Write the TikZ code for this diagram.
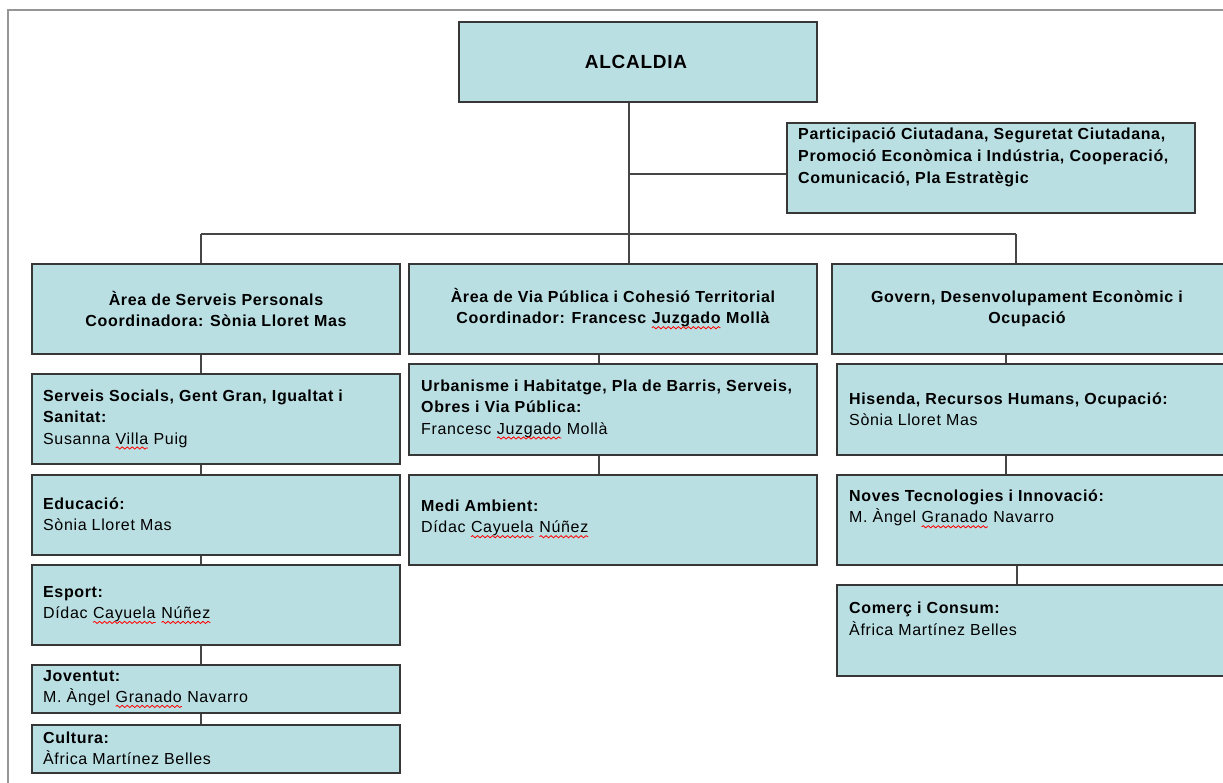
\documentclass[tikz,border=0pt]{standalone}
\usepackage{fontspec}
\setmainfont{Liberation Sans}[LetterSpace=4]
\usetikzlibrary{shadows,decorations.pathmorphing}
\definecolor{boxfill}{RGB}{186,223,227}
\definecolor{boxline}{RGB}{55,55,55}
\definecolor{connline}{RGB}{70,70,70}
\definecolor{framegray}{RGB}{150,150,150}
\newcommand\sq[1]{\tikz[baseline=(sqw.base)]{\node[inner sep=0pt,outer sep=0pt,anchor=base west] (sqw) at (0pt,0pt) {#1};\draw[red,line width=0.8pt,decorate,decoration={snake,amplitude=1.1pt,segment length=5pt}] ([yshift=-3.8pt]sqw.base west) -- ([yshift=-3.8pt]sqw.base east);}}
\begin{document}
\begin{tikzpicture}[x=1pt,y=-1pt,
  orgbox/.style n args={2}{draw=boxline, line width=1.3pt, fill=boxfill, inner sep=0pt,
    minimum width=#1pt, minimum height=#2pt,
    drop shadow={shadow xshift=1.2pt, shadow yshift=-1.2pt, fill=black, opacity=0.25}},
  lbl/.style={anchor=west, align=left, inner sep=0pt, font=\fontsize{16}{21.5}\selectfont},
  ctr/.style={align=center, inner sep=0pt, font=\fontsize{16}{21}\selectfont\bfseries},
  conn/.style={draw=connline, line width=1.3pt}]
\useasboundingbox (0,0) rectangle (1223,783);
\fill[white] (0,0) rectangle (1223,783);
\draw[framegray, line width=1.5pt] (8,790) -- (8,10) -- (1230,10);

% boxes
\node[orgbox={358}{80}] (alc) at (638,62) {};
\node[orgbox={408}{90}] (part) at (991,168) {};
\node[orgbox={368}{90}] (a1) at (216,309) {};
\node[orgbox={408}{90}] (a2) at (613,309) {};
\node[orgbox={396}{90}] (a3) at (1030,309) {};
\node[orgbox={368}{90}] (l1) at (216,419) {};
\node[orgbox={368}{80}] (l2) at (216,515) {};
\node[orgbox={368}{80}] (l3) at (216,605) {};
\node[orgbox={368}{48}] (l4) at (216,689) {};
\node[orgbox={368}{48}] (l5) at (216,749) {};
\node[orgbox={408}{91}] (m1) at (613,409.5) {};
\node[orgbox={408}{90}] (m2) at (613,520) {};
\node[orgbox={396}{91}] (r1) at (1035,409.5) {};
\node[orgbox={396}{90}] (r2) at (1035,520) {};
\node[orgbox={396}{91}] (r3) at (1035,630.5) {};

% texts
\node[inner sep=0pt, font=\fontsize{19}{22}\selectfont\bfseries] (talc) at (636,62) {ALCALDIA};
\node[lbl, font=\fontsize{16}{22}\selectfont\bfseries] (tpart) at (798,157) {Participació Ciutadana, Seguretat Ciutadana,\\Promoció Econòmica i Indústria, Cooperació,\\Comunicació, Pla Estratègic};
\node[ctr] (ta1) at (216,309) {Àrea de Serveis Personals\\Coordinadora: Sònia Lloret Mas};
\node[ctr] (ta2) at (613,309) {Àrea de Via Pública i Cohesió Territorial\\Coordinador: Francesc \sq{Juzgado} Mollà};
\node[ctr] (ta3) at (1027,309) {Govern, Desenvolupament Econòmic i\\Ocupació};
\node[lbl] (tl1) at (43,419.5) {\textbf{Serveis Socials, Gent Gran, Igualtat i}\\\textbf{Sanitat:}\\Susanna \sq{Villa} Puig};
\node[lbl] (tl2) at (43,514) {\textbf{Educació:}\\Sònia Lloret Mas};
\node[lbl] (tl3) at (43,605) {\textbf{Esport:}\\Dídac \sq{Cayuela} \sq{Núñez}};
\node[lbl] (tl4) at (43,689) {\textbf{Joventut:}\\M. Àngel \sq{Granado} Navarro};
\node[lbl] (tl5) at (43,748.5) {\textbf{Cultura:}\\Àfrica Martínez Belles};
\node[lbl] (tm1) at (421,409.5) {\textbf{Urbanisme i Habitatge, Pla de Barris, Serveis,}\\\textbf{Obres i Via Pública:}\\Francesc \sq{Juzgado} Mollà};
\node[lbl] (tm2) at (421,519) {\textbf{Medi Ambient:}\\Dídac \sq{Cayuela} \sq{Núñez}};
\node[lbl] (tr1) at (849,409) {\textbf{Hisenda, Recursos Humans, Ocupació:}\\Sònia Lloret Mas};
\node[lbl] (tr2) at (849,509) {\textbf{Noves Tecnologies i Innovació:}\\M. Àngel \sq{Granado} Navarro};
\node[lbl] (tr3) at (849,619) {\textbf{Comerç i Consum:}\\Àfrica Martínez Belles};

% junctions
\coordinate (j0) at (629,234);
\coordinate (jp) at (629,174);
\coordinate (jl) at (201,234);
\coordinate (jr) at (1016,234);

% connectors
\draw[conn] (alc.south -| j0) -- (j0) -- (j0 |- a2.north);
\draw[conn] (jp) -- (jp -| part.west);
\draw[conn] (jl) -- (jr);
\draw[conn] (jl) -- (jl |- a1.north);
\draw[conn] (jr) -- (jr |- a3.north);
\draw[conn] (a1.south -| jl) -- (l1.north -| jl);
\draw[conn] (l1.south -| jl) -- (l2.north -| jl);
\draw[conn] (l2.south -| jl) -- (l3.north -| jl);
\draw[conn] (l3.south -| jl) -- (l4.north -| jl);
\draw[conn] (l4.south -| jl) -- (l5.north -| jl);
\coordinate (jm) at (599,0);
\draw[conn] (a2.south -| jm) -- (m1.north -| jm);
\draw[conn] (m1.south -| jm) -- (m2.north -| jm);
\coordinate (jr1) at (1006,0);
\coordinate (jr2) at (1017,0);
\draw[conn] (a3.south -| jr1) -- (r1.north -| jr1);
\draw[conn] (r1.south -| jr1) -- (r2.north -| jr1);
\draw[conn] (r2.south -| jr2) -- (r3.north -| jr2);
\end{tikzpicture}
\end{document}
